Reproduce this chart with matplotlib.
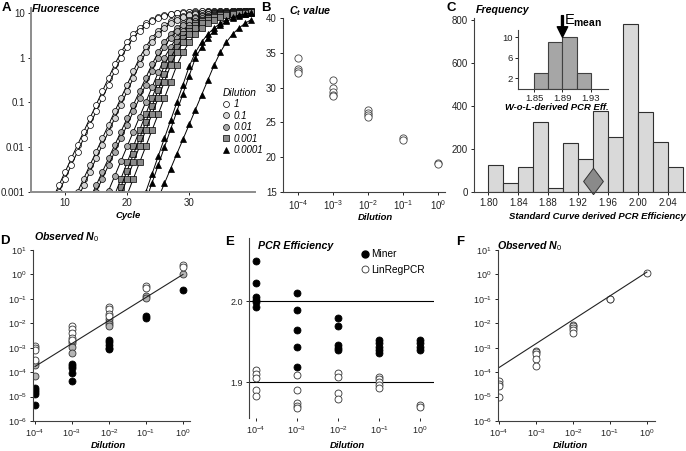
import numpy as np
import matplotlib.pyplot as plt
from matplotlib.lines import Line2D
import matplotlib.transforms as mtransforms

plt.rcParams['font.family'] = ['Liberation Sans', 'DejaVu Sans']
plt.rcParams['mathtext.fontset'] = 'custom'
plt.rcParams['mathtext.rm'] = 'Liberation Sans'
plt.rcParams['mathtext.it'] = 'Liberation Sans:italic:bold'
plt.rcParams['mathtext.bf'] = 'Liberation Sans:bold'
plt.rcParams['font.size'] = 7
plt.rcParams['xtick.major.size'] = 2.5
plt.rcParams['ytick.major.size'] = 2.5
plt.rcParams['xtick.major.width'] = 0.7
plt.rcParams['ytick.major.width'] = 0.7
plt.rcParams['xtick.major.pad'] = 2
plt.rcParams['ytick.major.pad'] = 2

# ---- A: amplification curves (log10 fluorescence per cycle) ----
a_dilutions = ['1', '0.1', '0.01', '0.001', '0.0001']
a_curves = [
    (0, 8, [-3.15, -2.85, -2.55, -2.25, -1.95, -1.65, -1.35, -1.05, -0.75, -0.45, -0.15, 0.12, 0.35, 0.53, 0.66,
            0.77, 0.85, 0.91, 0.95, 0.98, 1.00, 1.02, 1.03, 1.04, 1.04, 1.05, 1.05, 1.05, 1.05, 1.06, 1.06, 1.06, 1.06]),
    (0, 8, [-3.30, -3.00, -2.70, -2.40, -2.10, -1.80, -1.50, -1.20, -0.90, -0.60, -0.30, 0.00, 0.24, 0.45, 0.60,
            0.72, 0.81, 0.88, 0.93, 0.97, 0.99, 1.01, 1.02, 1.03, 1.04, 1.04, 1.05, 1.05, 1.05, 1.05, 1.06, 1.06, 1.06]),
    (1, 11, [-3.30, -3.00, -2.70, -2.40, -2.10, -1.80, -1.50, -1.20, -0.90, -0.60, -0.30, 0.00, 0.24, 0.45, 0.60,
             0.72, 0.81, 0.88, 0.93, 0.97, 0.99, 1.01, 1.02, 1.03, 1.04, 1.04, 1.05, 1.05, 1.05, 1.05]),
    (1, 12, [-3.15, -2.85, -2.55, -2.25, -1.95, -1.65, -1.35, -1.05, -0.75, -0.45, -0.15, 0.12, 0.35, 0.53, 0.66,
             0.77, 0.85, 0.91, 0.95, 0.98, 1.00, 1.02, 1.03, 1.03, 1.04, 1.04, 1.05, 1.05, 1.05]),
    (2, 14, [-3.15, -2.85, -2.55, -2.25, -1.95, -1.65, -1.35, -1.05, -0.75, -0.45, -0.15, 0.12, 0.35, 0.53, 0.66,
             0.77, 0.85, 0.91, 0.95, 0.98, 1.00, 1.02, 1.03, 1.03, 1.04, 1.04, 1.04]),
    (2, 14, [-3.30, -3.00, -2.70, -2.40, -2.10, -1.80, -1.50, -1.20, -0.90, -0.60, -0.30, 0.00, 0.24, 0.45, 0.60,
             0.72, 0.81, 0.88, 0.93, 0.97, 0.99, 1.01, 1.02, 1.03, 1.03, 1.04, 1.04]),
    (2, 16, [-3.30, -2.97, -2.64, -2.31, -1.98, -1.65, -1.32, -0.99, -0.66, -0.33, 0.00, 0.24, 0.45, 0.60, 0.72,
             0.81, 0.88, 0.93, 0.97, 0.99, 1.01, 1.02, 1.03, 1.03, 1.04]),
    (3, 18, [-3.06, -2.70, -2.34, -1.98, -1.62, -1.26, -0.90, -0.54, -0.17, 0.12, 0.35, 0.53, 0.66, 0.77, 0.85,
             0.91, 0.95, 0.98, 1.00, 1.02, 1.03, 1.03, 1.04]),
    (3, 18, [-3.24, -2.88, -2.52, -2.16, -1.80, -1.44, -1.08, -0.72, -0.36, 0.00, 0.24, 0.45, 0.60, 0.72, 0.81,
             0.88, 0.93, 0.97, 0.99, 1.01, 1.02, 1.03, 1.03]),
    (3, 19, [-3.06, -2.70, -2.34, -1.98, -1.62, -1.26, -0.90, -0.54, -0.17, 0.12, 0.35, 0.53, 0.66, 0.77, 0.85,
             0.91, 0.95, 0.98, 1.00, 1.01, 1.02, 1.03]),
    (3, 20, [-3.06, -2.70, -2.34, -1.98, -1.62, -1.26, -0.90, -0.54, -0.17, 0.12, 0.35, 0.53, 0.66, 0.77, 0.85,
             0.91, 0.95, 0.98, 1.00, 1.01, 1.02]),
    (4, 22, [-3.40, -3.00, -2.60, -2.20, -1.80, -1.40, -1.00, -0.60, -0.19, 0.12, 0.35, 0.53, 0.66, 0.77, 0.85,
             0.91, 0.95, 0.98, 1.00]),
    (4, 23, [-3.20, -2.80, -2.40, -2.00, -1.60, -1.20, -0.80, -0.40, 0.00, 0.24, 0.45, 0.60, 0.72, 0.81, 0.88,
             0.93, 0.97, 0.99]),
    (4, 25, [-3.14, -2.81, -2.48, -2.15, -1.82, -1.49, -1.16, -0.83, -0.50, -0.17, 0.12, 0.35, 0.53, 0.66, 0.77,
             0.85]),
]

# ---- B: Ct values ----
dilution = [1e-4, 1e-3, 1e-2, 1e-1, 1e0]
b_ct = [[34.3, 32.7, 32.4, 32.1], [31.1, 30.0, 29.3, 29.0, 28.8], [26.8, 26.4, 26.0, 25.8], [22.7, 22.5], [19.2, 19.0]]

# ---- C: histograms ----
c_bin_left = [1.80, 1.82, 1.84, 1.86, 1.88, 1.90, 1.92, 1.94, 1.96, 1.98, 2.00, 2.02, 2.04]
c_freq = [128, 40, 117, 325, 20, 226, 152, 376, 256, 782, 371, 231, 117]
c_mean = 1.94
inset_bin_left = [1.85, 1.87, 1.89, 1.91]
inset_freq = [3, 9, 10, 3]
e_mean = 1.89

# ---- D: observed N0 ----
d_white = [[1.2e-3, 1.0e-3, 8e-4, 3.2e-4], [8e-3, 6e-3, 4e-3, 2.5e-3, 2e-3], [4.5e-2, 3.7e-2, 2.5e-2, 2e-2],
           [0.33, 0.29], [2.4, 2.1]]
d_gray = [[2.6e-4, 2e-4, 7e-5], [1.9e-3, 1.5e-3, 1.1e-3, 6e-4], [1.5e-2, 1.1e-2, 9e-3, 7.5e-3], [0.13, 0.11], [1.0]]
d_black = [[2.2e-5, 1.8e-5, 1.5e-5, 1.3e-5, 4.5e-6], [2.2e-4, 1.8e-4, 1.5e-4, 9e-5, 4.5e-5],
           [2e-3, 1.7e-3, 1.3e-3, 1e-3, 9e-4], [0.02, 0.017], [0.22]]
d_fit = [1.7e-4, 1.0]

# ---- E: PCR efficiency ----
e_miner = [[2.050, 2.022, 2.005, 2.002, 1.999, 1.993], [2.010, 1.989, 1.965, 1.944, 1.919],
           [1.979, 1.970, 1.946, 1.942, 1.940], [1.952, 1.948, 1.944, 1.940, 1.936], [1.952, 1.948, 1.944, 1.940]]
e_linreg = [[1.915, 1.910, 1.905, 1.890, 1.883], [1.909, 1.890, 1.874, 1.871, 1.868],
            [1.912, 1.907, 1.887, 1.880], [1.907, 1.904, 1.900, 1.897, 1.893], [1.872, 1.870]]

# ---- F: observed N0 ----
f_n0 = [[4.2e-5, 3.2e-5, 2.6e-5, 1e-5], [7.6e-4, 6.5e-4, 5.5e-4, 3.5e-4, 1.8e-4],
        [8.7e-3, 7.4e-3, 6.3e-3, 5.4e-3, 3.9e-3], [0.1, 0.095], [1.15]]
f_fit = [1.55e-4, 1.25]

W, H = 686, 451
fig = plt.figure(figsize=(W / 100, H / 100), dpi=100)


def fx(x):
    return x / W


def fy(y):
    return 1 - y / H


def px_axes(x0, y0, x1, y1):
    return fig.add_axes([x0 / W, 1 - y1 / H, (x1 - x0) / W, (y1 - y0) / H])


def style(ax, color='#404040', lw=0.8, bottom=True):
    for s in ['top', 'right']:
        ax.spines[s].set_visible(False)
    ax.spines['left'].set_color(color)
    ax.spines['left'].set_linewidth(lw)
    ax.spines['bottom'].set_color(color)
    ax.spines['bottom'].set_linewidth(lw)
    ax.spines['bottom'].set_visible(bottom)
    ax.tick_params(colors='#222222', labelsize=7)
    ax.minorticks_off()


def label(x, y, s, **kw):
    fig.text(fx(x), fy(y), s, **kw)


title_kw = dict(fontsize=7.7, fontweight='bold', style='italic', va='center', ha='left')
xlab_kw = dict(fontsize=6.8, fontweight='bold', style='italic', va='center', ha='center')
letter_kw = dict(fontsize=9.5, fontweight='bold', va='center', ha='center')

# ---------------- A ----------------
axA = px_axes(31, 8, 255, 192)
a_face = ['white', '#d4d4d4', '#a8a8a8', '#8a8a8a', 'black']
a_marker = ['o', 'o', 'o', 's', '^']
for di, start, vals in a_curves:
    cyc = start + np.arange(len(vals))
    axA.plot(cyc, 10 ** np.array(vals), color='black', lw=0.7, marker=a_marker[di], ms=4.3,
             mfc=a_face[di], mec='black', mew=0.5)
axA.set_yscale('log')
axA.set_ylim(1e-3, 12.9)
axA.set_xlim(4.5, 40.6)
axA.set_yticks([1e-3, 1e-2, 1e-1, 1, 10])
axA.set_yticklabels(['0.001', '0.01', '0.1', '1', '10'])
axA.set_xticks([10, 20, 30])
style(axA, color='#8c8c8c', lw=1.4)
axA.minorticks_off()
handles = [Line2D([], [], ls='none', marker=a_marker[i], ms=4.3, mfc=a_face[i], mec='black', mew=0.5)
           for i in range(5)]
legA = axA.legend(handles, a_dilutions, loc='upper left', bbox_to_anchor=(fx(218), fy(83)),
                  bbox_transform=fig.transFigure, frameon=False, handlelength=0.6, handletextpad=0.5,
                  labelspacing=0.15, borderpad=0, title='Dilution', alignment='left',
                  prop=dict(style='italic', size=7), title_fontproperties=dict(style='italic', size=7.3))
label(6.5, 8, 'A', **letter_kw)
label(32, 9, 'Fluorescence', **title_kw)
label(128, 215, 'Cycle', **xlab_kw)

# ---------------- B ----------------
axB = px_axes(283, 18, 445, 192)
for d, vals in zip(dilution, b_ct):
    axB.plot([d] * len(vals), vals, ls='none', marker='o', ms=5.2, mfc='white', mec='#444444', mew=0.6)
axB.set_xscale('log')
axB.set_xlim(10 ** -4.43, 10 ** 0.2)
axB.set_ylim(15, 40)
axB.set_yticks([15, 20, 25, 30, 35, 40])
axB.set_xticks(dilution)
style(axB)
label(266, 8, 'B', **letter_kw)
label(289, 11, r'$C_t$ value', **title_kw)
label(375, 218, 'Dilution', **xlab_kw)

# ---------------- C ----------------
axC = px_axes(474, 18, 686, 192)
axC.bar(c_bin_left, c_freq, width=0.02, align='edge', color='#d9d9d9', edgecolor='#303030', lw=0.8)
trans = mtransforms.blended_transform_factory(axC.transData, axC.transAxes)
axC.plot([c_mean], [0.064], transform=trans, marker=[(0, -1), (0.75, 0), (0, 1), (-0.75, 0), (0, -1)],
         ms=19, mfc='#8a8a8a', mec='#333333', mew=0.7, ls='none', clip_on=False)
axC.set_xlim(1.781, 2.064)
axC.set_ylim(0, 810)
axC.set_xticks(c_bin_left[::2])
axC.set_xticklabels(['%.2f' % v for v in c_bin_left[::2]])
axC.set_yticks([0, 200, 400, 600, 800])
style(axC)
label(451, 8, 'C', **letter_kw)
label(476, 10, 'Frequency', **title_kw)
label(597, 216, 'Standard Curve derived PCR Efficiency', **xlab_kw)

axI = px_axes(518, 30, 608, 88.5)
axI.patch.set_alpha(0)
axI.bar(inset_bin_left, inset_freq, width=0.02, align='edge', color='#a6a6a6', edgecolor='#404040', lw=0.8)
axI.set_xlim(1.8275, 1.954)
axI.set_ylim(0, 11.4)
axI.set_yticks([2, 6, 10])
axI.set_xticks([1.85, 1.89, 1.93])
axI.set_xticklabels(['1.85', '1.89', '1.93'])
style(axI)
axI.tick_params(labelsize=6.8, pad=1.5)
axI.annotate('', xy=(e_mean, 10.0), xytext=(e_mean, 14.2), annotation_clip=False,
             arrowprops=dict(width=1.4, headwidth=7.5, headlength=7.5, color='black', shrink=0))
label(564, 21, r'E$_{\mathbf{mean}}$', fontsize=10.5, va='center', ha='left')
label(557, 107, 'W-o-L-derived PCR Eff.', **xlab_kw)

# ---------------- D ----------------
axD = px_axes(33, 250, 190, 421)
for d, w, g, b in zip(dilution, d_white, d_gray, d_black):
    axD.plot([d] * len(b), b, ls='none', marker='o', ms=5, mfc='black', mec='black', mew=0.6)
    axD.plot([d] * len(g), g, ls='none', marker='o', ms=5, mfc='#b4b4b4', mec='#333333', mew=0.6)
    axD.plot([d] * len(w), w, ls='none', marker='o', ms=5, mfc='white', mec='#333333', mew=0.6)
axD.plot([dilution[0], dilution[-1]], d_fit, color='#222222', lw=0.8)
axD.set_xscale('log')
axD.set_yscale('log')
axD.set_xlim(10 ** -4.054, 10 ** 0.19)
axD.set_ylim(1e-6, 10)
axD.set_xticks(dilution)
axD.set_yticks([10.0 ** k for k in range(-6, 2)])
style(axD)
axD.tick_params(labelsize=6.5)
axD.minorticks_off()
label(5, 241, 'D', **letter_kw)
label(34, 237, r'Observed $N_{\mathit{0}}$', **title_kw)
label(108, 445, 'Dilution', **xlab_kw)

# ---------------- E ----------------
axE = px_axes(249, 238, 434, 418)
axE.axhline(2.0, color='black', lw=0.8)
axE.axhline(1.9, color='black', lw=0.8)
for d, m, l in zip(dilution, e_miner, e_linreg):
    axE.plot([d] * len(m), m, ls='none', marker='o', ms=5, mfc='black', mec='black', mew=0.6)
    axE.plot([d] * len(l), l, ls='none', marker='o', ms=5, mfc='white', mec='#333333', mew=0.6)
axE.set_xscale('log')
axE.set_xlim(10 ** -4.17, 10 ** 0.34)
axE.set_ylim(1.856, 2.078)
axE.set_xticks(dilution)
axE.set_yticks([1.9, 2.0])
axE.set_yticklabels(['1.9', '2.0'])
style(axE, bottom=False)
axE.tick_params(labelsize=6.5)
axE.minorticks_off()
hE = [Line2D([], [], ls='none', marker='o', ms=5, mfc='black', mec='black'),
      Line2D([], [], ls='none', marker='o', ms=5, mfc='white', mec='#333333', mew=0.6)]
axE.legend(hE, ['Miner', 'LinRegPCR'], loc='upper left', bbox_to_anchor=(fx(357), fy(244)),
           bbox_transform=fig.transFigure, frameon=False, handlelength=0.6, handletextpad=0.3,
           labelspacing=0.55, borderpad=0, prop=dict(size=7.3))
label(230, 242, 'E', **letter_kw)
label(258, 246, 'PCR Efficiency', **title_kw)
label(347, 445, 'Dilution', **xlab_kw)

# ---------------- F ----------------
axF = px_axes(498, 250, 655, 421)
for d, vals in zip(dilution, f_n0):
    axF.plot([d] * len(vals), vals, ls='none', marker='o', ms=5, mfc='white', mec='#333333', mew=0.6)
axF.plot([dilution[0], dilution[-1]], f_fit, color='#222222', lw=0.8)
axF.set_xscale('log')
axF.set_yscale('log')
axF.set_xlim(10 ** -4.03, 10 ** 0.22)
axF.set_ylim(1e-6, 10)
axF.set_xticks(dilution)
axF.set_yticks([10.0 ** k for k in range(-6, 2)])
style(axF)
axF.tick_params(labelsize=6.5)
axF.minorticks_off()
label(460, 242, 'F', **letter_kw)
label(497, 246, r'Observed $N_{\mathit{0}}$', **title_kw)
label(570, 445, 'Dilution', **xlab_kw)

fig.savefig('out.png', dpi=100)
